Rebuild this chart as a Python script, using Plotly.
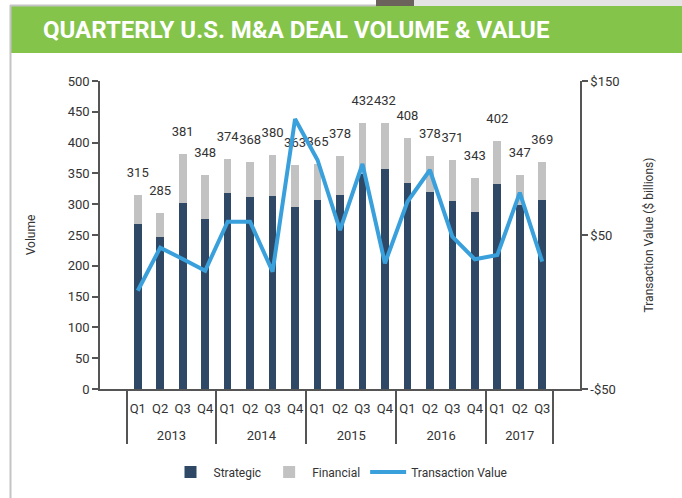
import plotly.graph_objects as go

years = ["2013"] * 4 + ["2014"] * 4 + ["2015"] * 4 + ["2016"] * 4 + ["2017"] * 3
quarters = ["Q1", "Q2", "Q3", "Q4"] * 4 + ["Q1", "Q2", "Q3"]
totals = [315, 285, 381, 348, 374, 368, 380, 363, 365, 378, 432, 432, 408, 378, 371, 343, 402, 347, 369]
strategic = [268, 247, 302, 276, 318, 311, 313, 296, 307, 315, 349, 357, 335, 320, 305, 288, 333, 299, 307]
financial = [t - s for t, s in zip(totals, strategic)]
transaction_value = [13.8, 41.8, 34.4, 26.8, 58.6, 58.6, 26.2, 125.3, 98.7, 53.2, 96.1, 31.6,
                     71.6, 92.2, 48.9, 34.2, 37.0, 77.5, 32.7]
left_ticks = list(range(0, 501, 50))
right_tickvals = [-50, 50, 150]
right_ticktext = ["-$50", "$50", "$150"]

W, H = 682, 498
DARK = "#2e4865"
GREY = "#c2c2c2"
BLUE = "#3aa0dc"
TXT = "#333333"
AX = "#555555"
FONT = "Roboto, 'Liberation Sans Narrow', sans-serif"

# second-level (year) labels get an empty first line so they sit lower, as in the reference
x = [["<br>" + y for y in years], quarters]

fig = go.Figure()
fig.add_trace(go.Bar(x=x, y=strategic, name="Strategic", marker=dict(color=DARK, line=dict(width=0)),
                     hoverinfo="y"))
fig.add_trace(go.Bar(x=x, y=financial, name="Financial", marker=dict(color=GREY, line=dict(width=0)),
                     hoverinfo="y"))
fig.add_trace(go.Scatter(x=x, y=totals, mode="markers+text", text=[str(t) for t in totals],
                         textposition="top center", textfont=dict(size=13, color=TXT, family=FONT),
                         marker=dict(size=22, opacity=0), showlegend=False, hoverinfo="skip"))
fig.add_trace(go.Scatter(x=x, y=transaction_value, name="Transaction Value", mode="lines",
                         line=dict(color=BLUE, width=4), yaxis="y2"))


def px(xp):
    return (xp - 100) / 480


def py(yp):
    return (389 - yp) / 308


fig.update_layout(
    width=W, height=H,
    margin=dict(l=100, r=102, t=81, b=109, autoexpand=False),
    paper_bgcolor="white", plot_bgcolor="white",
    barmode="stack", bargap=0.66,
    font=dict(family=FONT, size=13, color=TXT),
    showlegend=True,
    legend=dict(orientation="h", x=0.5, xanchor="center", y=py(472), yanchor="middle",
                font=dict(size=12, color=TXT), itemwidth=36, traceorder="normal",
                bgcolor="rgba(0,0,0,0)"),
    xaxis=dict(type="multicategory", showline=True, linecolor=AX, linewidth=1.5, automargin=False,
               ticks="", showgrid=False, showdividers=True, dividercolor=AX, dividerwidth=1.5,
               tickangle=0, ticklabelstandoff=7, tickfont=dict(size=13, color=TXT)),
    yaxis=dict(range=[0, 500], tickvals=left_ticks, showline=True, linecolor=AX, linewidth=1.5,
               automargin=False,
               ticks="outside", ticklen=6, tickcolor=AX, tickwidth=1.5, showgrid=False, zeroline=False,
               title=dict(text="Volume", font=dict(size=12, color=TXT), standoff=30),
               tickfont=dict(size=13, color=TXT)),
    yaxis2=dict(range=[-50, 150], tickvals=right_tickvals, ticktext=right_ticktext, overlaying="y",
                side="right", showline=True, linecolor=AX, linewidth=1.5, ticks="outside", ticklen=6,
                automargin=False,
                tickcolor=AX, tickwidth=1.5, showgrid=False, zeroline=False,
                title=dict(text="Transaction Value ($ billions)", font=dict(size=12, color=TXT), standoff=26),
                tickfont=dict(size=13, color=TXT)),
    shapes=[
        dict(type="rect", xref="paper", yref="paper", x0=px(10), x1=px(682),
             y0=py(53), y1=py(6), fillcolor="#84c44a", line=dict(width=0), layer="below"),
        dict(type="line", xref="paper", yref="paper", x0=px(10.5), x1=px(10.5),
             y0=py(498), y1=py(5), line=dict(color="#c4c4c4", width=2)),
        dict(type="line", xref="paper", yref="paper", x0=px(10), x1=px(376),
             y0=py(5.5), y1=py(5.5), line=dict(color="#c4c4c4", width=2)),
        dict(type="rect", xref="paper", yref="paper", x0=px(376), x1=px(414),
             y0=py(6), y1=py(-2), fillcolor="#6b625c", line=dict(width=0)),
        dict(type="rect", xref="paper", yref="paper", x0=px(414), x1=px(682),
             y0=py(6), y1=py(-2), fillcolor="#e4e4e4", line=dict(width=0)),
    ],
    annotations=[
        dict(text="<b>QUARTERLY U.S. M&amp;A DEAL VOLUME &amp; VALUE</b>", xref="paper", yref="paper",
             x=px(41), y=py(29.5), xanchor="left", yanchor="middle", showarrow=False,
             font=dict(size=24, color="white", family="Roboto, sans-serif")),
    ],
)

fig.write_html("out.html", post_script="document.body.style.margin='0';",
               config={"displayModeBar": False})
